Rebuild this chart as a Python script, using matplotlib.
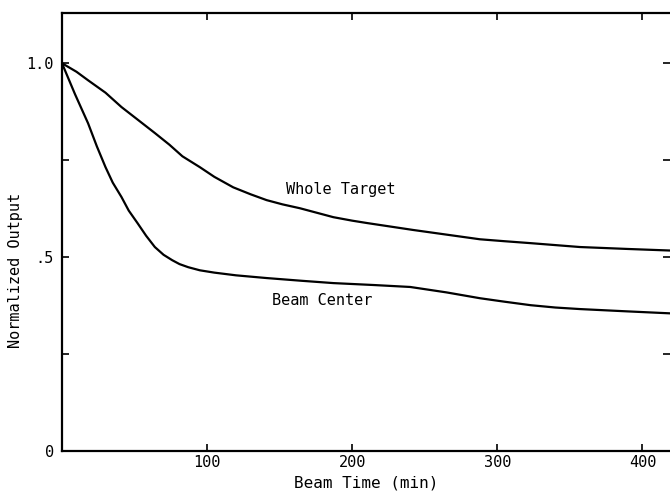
import matplotlib
matplotlib.use("Agg")
import matplotlib.pyplot as plt

# Data
whole_t = [0, 10, 18, 30, 41, 52, 64, 74, 83, 95, 105, 118, 130, 141, 152, 164,
           176, 187, 200, 210, 226, 242, 265, 288, 305, 323, 340, 357, 390, 419]
whole_v = [1.0, 0.978, 0.956, 0.924, 0.887, 0.855, 0.82, 0.79, 0.76, 0.732,
           0.707, 0.68, 0.662, 0.647, 0.636, 0.626, 0.614, 0.603, 0.594, 0.588,
           0.579, 0.57, 0.558, 0.546, 0.541, 0.536, 0.531, 0.526, 0.521, 0.517]

beam_t = [0, 9, 18, 24, 30, 35, 41, 46, 52, 58, 64, 70, 76, 81, 87, 95, 105,
          120, 141, 165, 187, 215, 240, 265, 288, 305, 323, 340, 357, 390, 419]
beam_v = [1.0, 0.92, 0.845, 0.786, 0.732, 0.692, 0.655, 0.62, 0.588, 0.555,
          0.526, 0.506, 0.492, 0.482, 0.474, 0.466, 0.46, 0.453, 0.446, 0.439,
          0.433, 0.428, 0.423, 0.409, 0.394, 0.385, 0.376, 0.37, 0.366, 0.36,
          0.355]

x_ticks = [100, 200, 300, 400]
y_ticks = [0, 0.25, 0.5, 0.75, 1.0]
y_tick_labels = ["0", "", ".5", "", "1.0"]

font = "DejaVu Sans Mono"
plt.rcParams["font.family"] = font

fig = plt.figure(figsize=(6.7, 4.93), dpi=100)
ax = fig.add_axes([0.0925, 0.0852, 0.9075, 0.888])

ax.plot(whole_t, whole_v, color="black", lw=1.6, solid_joinstyle="round")
ax.plot(beam_t, beam_v, color="black", lw=1.6, solid_joinstyle="round")

ax.text(192, 0.675, "Whole Target", fontsize=11, ha="center", va="center")
ax.text(179, 0.389, "Beam Center", fontsize=11, ha="center", va="center")

ax.set_xlim(0, 419)
ax.set_ylim(0, 1.129)

ax.set_xticks(x_ticks)
ax.set_yticks(y_ticks)
ax.set_yticklabels(y_tick_labels)
ax.tick_params(direction="in", length=5, width=1.2, labelsize=11,
               top=True, right=True)
ax.tick_params(axis="y", pad=6)
ax.tick_params(axis="x", pad=3)

for side in ["left", "bottom", "top"]:
    ax.spines[side].set_linewidth(1.6)
ax.spines["right"].set_visible(False)

ax.set_xlabel("Beam Time (min)", fontsize=11.5, labelpad=4)
ax.set_ylabel("Normalized Output", fontsize=11)
ax.yaxis.set_label_coords(-0.064, 0.413)

fig.savefig("out.png", dpi=100)
